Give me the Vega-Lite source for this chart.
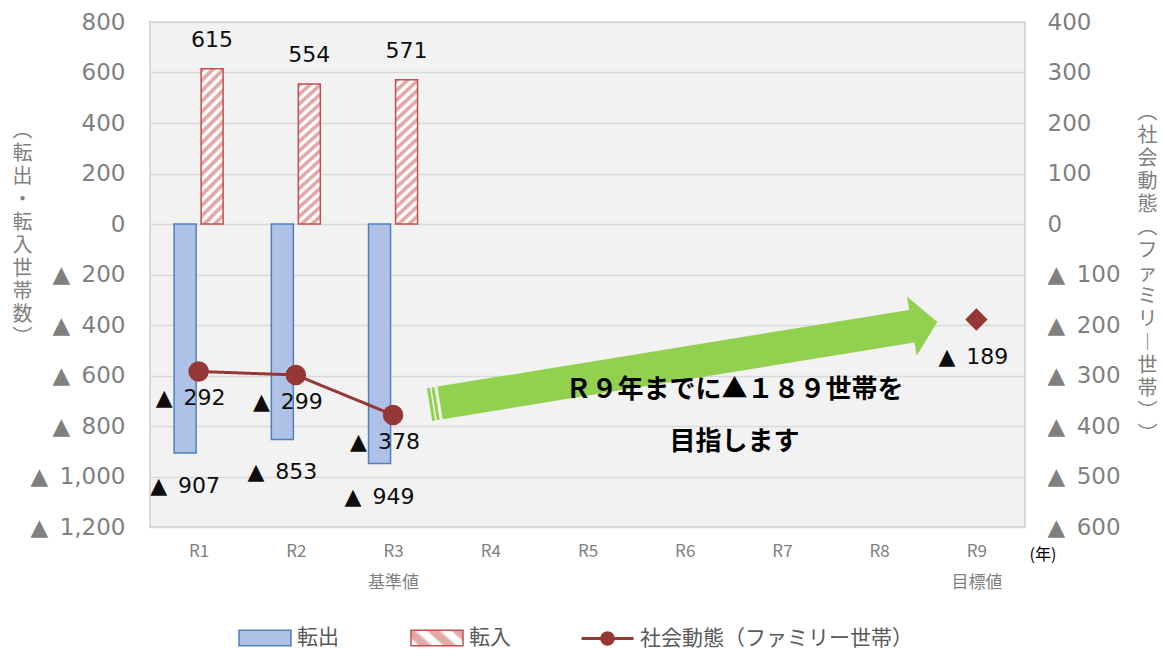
{
  "$schema": "https://vega.github.io/schema/vega-lite/v6.json",
  "width": 875,
  "height": 505,
  "autosize": {"type": "none"},
  "padding": {"left": 150, "top": 22, "right": 138, "bottom": 122},
  "background": "#ffffff",
  "config": {
    "view": {"fill": "#f2f2f2", "stroke": "#d9d9d9", "strokeWidth": 2},
    "font": "Noto Sans CJK JP",
    "legend": {
      "orient": "none",
      "title": null,
      "padding": 0,
      "symbolSize": 2704,
      "labelFont": "Noto Sans CJK JP",
      "labelFontSize": 21,
      "labelColor": "#595959",
      "labelOffset": 5,
      "labelLimit": 400,
      "symbolOpacity": 1
    }
  },
  "datasets": {
    "outs": [{"i": 1, "v": -907}, {"i": 2, "v": -853}, {"i": 3, "v": -949}],
    "ins": [{"i": 1, "v": 615}, {"i": 2, "v": 554}, {"i": 3, "v": 571}],
    "soc": [{"i": 1, "v": -292}, {"i": 2, "v": -299}, {"i": 3, "v": -378}],
    "target": [{"i": 9, "v": -189}],
    "shaft": [{"o": 1, "i": 3.4833, "v": -708.5}, {"o": 2, "i": 8.3656, "v": -402.8}],
    "strips": [
      {"s": "a", "o": 1, "i": 3.418, "v": -778.8},
      {"s": "a", "o": 2, "i": 3.3635, "v": -649.8},
      {"s": "b", "o": 1, "i": 3.4643, "v": -775.9},
      {"s": "b", "o": 2, "i": 3.4098, "v": -646.9}
    ],
    "head": [{"i": 8.467, "v": -396.4}],
    "note": [
      {"i": 6.511, "v": -657.4, "t": "Ｒ９年までに▲１８９世帯を"},
      {"i": 6.511, "v": -863.4, "t": "目指します"}
    ]
  },
  "encoding": {
    "x": {
      "field": "i",
      "type": "quantitative",
      "scale": {"domain": [0.5, 9.5], "nice": false, "zero": false, "padding": 0},
      "axis": {
        "values": [1, 2, 3, 4, 5, 6, 7, 8, 9],
        "labelExpr": "datum.value == 3 ? ['R3', '基準値'] : datum.value == 9 ? ['R9', '目標値'] : 'R' + datum.value",
        "labelFont": "Noto Sans CJK JP",
        "labelFontSize": 17,
        "labelColor": "#808080",
        "labelPadding": 16,
        "labelLineHeight": 31,
        "labelOverlap": false,
        "labelFlush": false,
        "grid": false,
        "domain": false,
        "ticks": false,
        "title": "(年)",
        "titleX": 879,
        "titleY": 27,
        "titleAngle": 0,
        "titleAlign": "left",
        "titleBaseline": "middle",
        "titleFont": "Noto Sans CJK JP",
        "titleFontSize": 16,
        "titleFontWeight": "normal",
        "titleColor": "#000000"
      }
    }
  },
  "layer": [
    {
      "encoding": {
        "y": {
          "field": "v",
          "type": "quantitative",
          "scale": {"domain": [-1200, 800], "nice": false},
          "axis": {
            "orient": "left",
            "values": [-1200, -1000, -800, -600, -400, -200, 0, 200, 400, 600, 800],
            "labelExpr": "datum.value < 0 ? '▲\u2002' + format(-datum.value, ',') : format(datum.value, ',')",
            "grid": true,
            "gridColor": "#d9d9d9",
            "gridWidth": 1.5,
            "domain": false,
            "ticks": false,
            "labelFont": "DejaVu Sans",
            "labelFontSize": 23,
            "labelColor": "#808080",
            "labelPadding": 25,
            "title": ["︵", "転", "出", "・", "転", "入", "世", "帯", "数", "︶"],
            "titleAngle": 0,
            "titleFont": "Noto Sans CJK JP",
            "titleFontSize": 20,
            "titleFontWeight": "normal",
            "titleColor": "#808080",
            "titleLineHeight": 23,
            "titleX": -128,
            "titleY": 108,
            "titleAlign": "center",
            "titleBaseline": "middle"
          }
        }
      },
      "layer": [
        {
          "data": {"name": "outs"},
          "mark": {"type": "bar", "width": 22, "xOffset": -13.5, "stroke": "#4f81bd", "strokeWidth": 1.5},
          "encoding": {
            "fill": {
              "datum": "転出",
              "type": "nominal",
              "scale": {"domain": ["転出"], "range": ["#adc2e6"]},
              "legend": {
                "legendX": 88,
                "legendY": 589,
                "symbolType": "M-1,-0.3H1V0.3H-1Z",
                "symbolStrokeColor": "#4f81bd",
                "symbolStrokeWidth": 1.5
              }
            }
          }
        },
        {
          "data": {"name": "ins"},
          "mark": {
            "type": "bar",
            "width": 22,
            "xOffset": 13.5,
            "strokeWidth": 1.5,
            "fill": {
              "gradient": "linear",
              "x1": 0, "y1": 0, "x2": 0.159, "y2": 1.119,
              "stops": [
                {"offset": 0, "color": "#e3a9a8"}, {"offset": 0.0206, "color": "#e3a9a8"}, {"offset": 0.0324, "color": "#ffffff"}, {"offset": 0.05, "color": "#ffffff"},
                {"offset": 0.0588, "color": "#e3a9a8"}, {"offset": 0.0794, "color": "#e3a9a8"}, {"offset": 0.0912, "color": "#ffffff"}, {"offset": 0.1088, "color": "#ffffff"},
                {"offset": 0.1176, "color": "#e3a9a8"}, {"offset": 0.1382, "color": "#e3a9a8"}, {"offset": 0.15, "color": "#ffffff"}, {"offset": 0.1676, "color": "#ffffff"},
                {"offset": 0.1765, "color": "#e3a9a8"}, {"offset": 0.1971, "color": "#e3a9a8"}, {"offset": 0.2088, "color": "#ffffff"}, {"offset": 0.2265, "color": "#ffffff"},
                {"offset": 0.2353, "color": "#e3a9a8"}, {"offset": 0.2559, "color": "#e3a9a8"}, {"offset": 0.2676, "color": "#ffffff"}, {"offset": 0.2853, "color": "#ffffff"},
                {"offset": 0.2941, "color": "#e3a9a8"}, {"offset": 0.3147, "color": "#e3a9a8"}, {"offset": 0.3265, "color": "#ffffff"}, {"offset": 0.3441, "color": "#ffffff"},
                {"offset": 0.3529, "color": "#e3a9a8"}, {"offset": 0.3735, "color": "#e3a9a8"}, {"offset": 0.3853, "color": "#ffffff"}, {"offset": 0.4029, "color": "#ffffff"},
                {"offset": 0.4118, "color": "#e3a9a8"}, {"offset": 0.4324, "color": "#e3a9a8"}, {"offset": 0.4441, "color": "#ffffff"}, {"offset": 0.4618, "color": "#ffffff"},
                {"offset": 0.4706, "color": "#e3a9a8"}, {"offset": 0.4912, "color": "#e3a9a8"}, {"offset": 0.5029, "color": "#ffffff"}, {"offset": 0.5206, "color": "#ffffff"},
                {"offset": 0.5294, "color": "#e3a9a8"}, {"offset": 0.55, "color": "#e3a9a8"}, {"offset": 0.5618, "color": "#ffffff"}, {"offset": 0.5794, "color": "#ffffff"},
                {"offset": 0.5882, "color": "#e3a9a8"}, {"offset": 0.6088, "color": "#e3a9a8"}, {"offset": 0.6206, "color": "#ffffff"}, {"offset": 0.6382, "color": "#ffffff"},
                {"offset": 0.6471, "color": "#e3a9a8"}, {"offset": 0.6676, "color": "#e3a9a8"}, {"offset": 0.6794, "color": "#ffffff"}, {"offset": 0.6971, "color": "#ffffff"},
                {"offset": 0.7059, "color": "#e3a9a8"}, {"offset": 0.7265, "color": "#e3a9a8"}, {"offset": 0.7382, "color": "#ffffff"}, {"offset": 0.7559, "color": "#ffffff"},
                {"offset": 0.7647, "color": "#e3a9a8"}, {"offset": 0.7853, "color": "#e3a9a8"}, {"offset": 0.7971, "color": "#ffffff"}, {"offset": 0.8147, "color": "#ffffff"},
                {"offset": 0.8235, "color": "#e3a9a8"}, {"offset": 0.8441, "color": "#e3a9a8"}, {"offset": 0.8559, "color": "#ffffff"}, {"offset": 0.8735, "color": "#ffffff"},
                {"offset": 0.8824, "color": "#e3a9a8"}, {"offset": 0.9029, "color": "#e3a9a8"}, {"offset": 0.9147, "color": "#ffffff"}, {"offset": 0.9324, "color": "#ffffff"},
                {"offset": 0.9412, "color": "#e3a9a8"}, {"offset": 0.9618, "color": "#e3a9a8"}, {"offset": 0.9735, "color": "#ffffff"}, {"offset": 0.9912, "color": "#ffffff"},
                {"offset": 1, "color": "#e3a9a8"}
              ]
            }
          },
          "encoding": {
            "stroke": {
              "datum": "転入",
              "type": "nominal",
              "scale": {"domain": ["転入"], "range": ["#c0504d"]},
              "legend": {
                "legendX": 260,
                "legendY": 589,
                "symbolType": "M-1,-0.3H1V0.3H-1Z",
                "symbolStrokeWidth": 1.5
              }
            }
          }
        },
        {
          "data": {"name": "outs"},
          "transform": [{"calculate": "datum.v < 0 ? '▲\u2002' + format(-datum.v, ',') : format(datum.v, ',')", "as": "lab"}],
          "mark": {"type": "text", "dx": -13.5, "dy": 33, "font": "DejaVu Sans", "fontSize": 22, "color": "#0d0d0d", "baseline": "middle"},
          "encoding": {"text": {"field": "lab"}}
        },
        {
          "data": {"name": "ins"},
          "transform": [{"calculate": "datum.v < 0 ? '▲\u2002' + format(-datum.v, ',') : format(datum.v, ',')", "as": "lab"}],
          "mark": {"type": "text", "dx": 13.5, "dy": -29, "font": "DejaVu Sans", "fontSize": 22, "color": "#0d0d0d", "baseline": "middle"},
          "encoding": {"text": {"field": "lab"}}
        },
        {
          "data": {"name": "shaft"},
          "mark": {"type": "line", "color": "#92d050", "strokeWidth": 33, "strokeCap": "butt"},
          "encoding": {"order": {"field": "o"}}
        },
        {
          "data": {"name": "strips"},
          "mark": {"type": "line", "color": "#92d050", "strokeWidth": 3, "strokeCap": "butt"},
          "encoding": {"order": {"field": "o"}, "detail": {"field": "s"}}
        },
        {
          "data": {"name": "head"},
          "mark": {"type": "point", "shape": "M-0.43,-1L0.43,0L-0.43,1Z", "size": 3600, "angle": -9.24, "filled": true, "color": "#92d050", "opacity": 1, "strokeWidth": 0}
        },
        {
          "data": {"name": "note"},
          "mark": {"type": "text", "font": "Noto Sans CJK JP", "fontSize": 26, "fontWeight": "bold", "color": "#000000", "baseline": "middle", "align": "center"},
          "encoding": {"text": {"field": "t"}}
        }
      ]
    },
    {
      "encoding": {
        "y": {
          "field": "v",
          "type": "quantitative",
          "scale": {"domain": [-600, 400], "nice": false},
          "axis": {
            "orient": "right",
            "values": [-600, -500, -400, -300, -200, -100, 0, 100, 200, 300, 400],
            "labelExpr": "datum.value < 0 ? '▲\u2002' + format(-datum.value, ',') : format(datum.value, ',')",
            "grid": false,
            "domain": false,
            "ticks": false,
            "labelFont": "DejaVu Sans",
            "labelFontSize": 23,
            "labelColor": "#808080",
            "labelPadding": 22,
            "title": ["︵", "社", "会", "動", "態", "︵", "フ", "ァ", "ミ", "リ", "︱", "世", "帯", "︶", "︶"],
            "titleAngle": 0,
            "titleFont": "Noto Sans CJK JP",
            "titleFontSize": 20,
            "titleFontWeight": "normal",
            "titleColor": "#808080",
            "titleLineHeight": 23,
            "titleX": 122,
            "titleY": 90,
            "titleAlign": "center",
            "titleBaseline": "middle"
          }
        }
      },
      "layer": [
        {
          "data": {"name": "soc"},
          "mark": {"type": "line", "stroke": "#953735", "strokeWidth": 3},
          "encoding": {
            "strokeDash": {
              "datum": "社会動態（ファミリー世帯）",
              "type": "nominal",
              "scale": {"domain": ["社会動態（ファミリー世帯）"], "range": [[1, 0]]},
              "legend": {
                "legendX": 430,
                "legendY": 589,
                "symbolType": "M-1,0H1M-0.22,0A0.22,0.22,0,1,1,0.22,0A0.22,0.22,0,1,1,-0.22,0Z",
                "symbolStrokeColor": "#953735",
                "symbolFillColor": "#953735",
                "symbolStrokeWidth": 3
              }
            }
          }
        },
        {
          "data": {"name": "soc"},
          "mark": {"type": "point", "shape": "circle", "filled": true, "size": 420, "color": "#953735", "opacity": 1}
        },
        {
          "data": {"name": "soc"},
          "transform": [{"calculate": "datum.v < 0 ? '▲\u2002' + format(-datum.v, ',') : format(datum.v, ',')", "as": "lab"}],
          "mark": {"type": "text", "dx": -8, "dy": 27, "font": "DejaVu Sans", "fontSize": 22, "color": "#0d0d0d", "baseline": "middle"},
          "encoding": {"text": {"field": "lab"}}
        },
        {
          "data": {"name": "target"},
          "mark": {"type": "point", "shape": "diamond", "filled": true, "size": 500, "color": "#953735", "opacity": 1}
        },
        {
          "data": {"name": "target"},
          "transform": [{"calculate": "datum.v < 0 ? '▲\u2002' + format(-datum.v, ',') : format(datum.v, ',')", "as": "lab"}],
          "mark": {"type": "text", "dx": -3, "dy": 38, "font": "DejaVu Sans", "fontSize": 22, "color": "#0d0d0d", "baseline": "middle"},
          "encoding": {"text": {"field": "lab"}}
        }
      ]
    }
  ],
  "resolve": {"scale": {"y": "independent"}}
}
